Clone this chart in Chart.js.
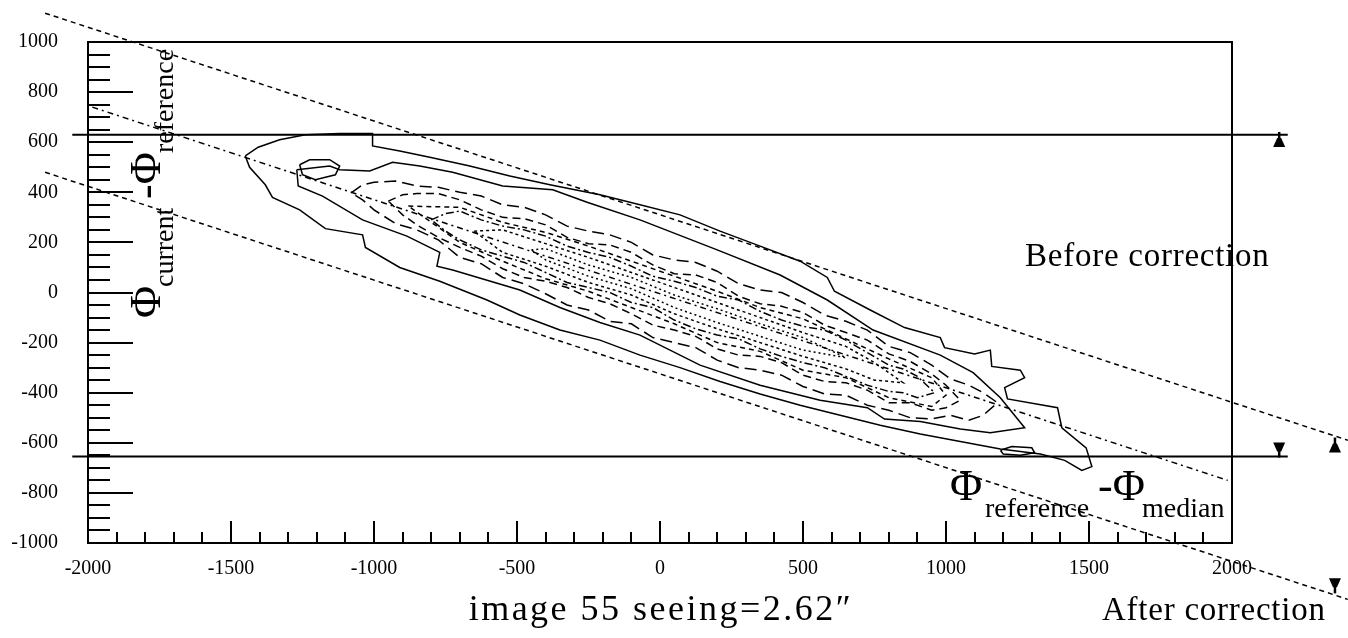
<!DOCTYPE html>
<html>
<head>
<meta charset="utf-8">
<script src="https://cdn.jsdelivr.net/npm/chart.js@4/dist/chart.umd.min.js"></script>
<style>
  html, body { margin: 0; padding: 0; background: #fff; }
  canvas { display: block; }
</style>
</head>
<body>
<canvas id="chart" width="1348" height="638"></canvas>
<script>
// axes
const xTicks = [-2000, -1500, -1000, -500, 0, 500, 1000, 1500, 2000];
const yTicks = [-1000, -800, -600, -400, -200, 0, 200, 400, 600, 800, 1000];
const xMinorStep = 100;
const yMinorStep = 50;

// contours, outermost first
const c1X = [-1450,-1405,-1330,-1240,-1120,-1005,-1005,-910,-805,-665,-525,-385,-210,-70,70,210,350,490,585,610,735,855,980,995,1100,1155,1160,1260,1275,1205,1215,1390,1405,1490,1510,1475,1415,1330,1190,1050,910,770,630,490,350,210,70,-70,-210,-350,-490,-605,-770,-910,-1030,-1040,-1170,-1260,-1355,-1380,-1435,-1450];
const c1Y = [545,580,610,630,635,635,585,565,540,505,465,430,390,350,310,245,185,125,60,5,-70,-140,-180,-220,-245,-230,-295,-310,-340,-380,-425,-460,-540,-620,-695,-710,-670,-645,-625,-595,-565,-530,-490,-450,-405,-355,-300,-250,-190,-150,-90,-30,45,100,180,230,255,330,380,430,500,545];

const c2X = [-1270,-1155,-1120,-1015,-935,-840,-725,-550,-375,-255,-70,200,420,585,745,980,1095,1190,1275,1155,1050,910,785,725,560,350,140,-70,-210,-350,-490,-725,-780,-770,-885,-1040,-1180,-1265,-1270];
const c2Y = [490,505,490,485,520,505,480,425,410,360,290,170,70,-30,-150,-250,-320,-420,-540,-560,-545,-515,-505,-460,-430,-370,-290,-170,-120,-60,10,90,105,160,225,290,385,425,490];

const loopAX = [-1260,-1225,-1155,-1120,-1135,-1205,-1250,-1260];
const loopAY = [510,530,530,505,470,450,470,510];
const loopBX = [1190,1230,1300,1310,1260,1200,1190];
const loopBY = [-630,-615,-620,-640,-650,-645,-630];

const c3X = [-1080,-1040,-1000,-925,-850,-775,-700,-625,-550,-475,-400,-325,-250,-175,-100,-25,50,125,200,275,350,425,500,575,650,725,800,875,950,1015,1080,1130,1180,
             1130,1080,1015,950,875,800,725,650,575,500,425,350,275,200,125,50,-25,-100,-175,-250,-325,-400,-475,-550,-625,-700,-775,-850,-925,-1000,-1040,-1080];
const c3Y = [398,430,440,445,425,420,400,385,350,340,310,265,245,230,200,150,130,120,85,35,10,0,-40,-90,-115,-150,-215,-240,-290,-345,-370,-400,-440,
             -490,-510,-490,-505,-500,-470,-450,-410,-405,-375,-330,-310,-300,-270,-220,-200,-180,-125,-115,-70,-50,-5,35,60,115,140,210,250,275,330,370,398];

const c4X = [-950,-900,-850,-775,-700,-625,-550,-475,-400,-325,-250,-175,-100,-25,50,125,200,275,350,425,500,575,650,725,800,875,950,1000,1050,
             1000,950,875,800,725,650,575,500,425,350,275,200,125,50,-25,-100,-175,-250,-325,-400,-475,-550,-625,-700,-775,-850,-900,-950];
const c4Y = [365,390,395,395,370,330,300,295,270,220,195,190,160,110,75,70,40,-15,-45,-55,-80,-130,-160,-190,-245,-275,-325,-370,-430,
             -460,-470,-440,-440,-390,-360,-355,-330,-280,-255,-250,-225,-175,-150,-130,-85,-45,-20,20,45,60,95,145,180,220,270,310,365];

const c4bX = [-880,-700,-550,-400,-250,-100,50,200,350,500,650,800,950,1000,950,800,650,500,350,200,50,-100,-250,-400,-550,-700,-880];
const c4bY = [345,340,280,240,185,125,65,5,-60,-105,-185,-265,-340,-410,-455,-420,-340,-310,-235,-200,-125,-60,5,55,125,200,345];

const c5X = [-800,-750,-700,-625,-550,-475,-400,-325,-250,-175,-100,-25,50,125,200,275,350,425,500,575,650,725,800,850,900,960,
             900,850,800,725,650,575,500,425,350,275,200,125,50,-25,-100,-175,-250,-325,-400,-475,-550,-625,-700,-750,-800];
const c5Y = [290,315,325,290,265,250,225,185,160,140,105,65,45,20,-15,-30,-75,-110,-135,-150,-190,-240,-290,-305,-335,-400,
             -420,-400,-395,-370,-335,-300,-280,-255,-225,-185,-170,-145,-110,-60,-40,0,20,40,80,120,145,170,210,245,290];

const c6X = [-650,-550,-400,-250,-100,50,200,350,500,650,750,850,750,650,500,350,200,50,-100,-250,-400,-550,-650];
const c6Y = [245,250,195,140,80,20,-40,-100,-160,-215,-280,-360,-350,-305,-255,-200,-145,-85,-10,40,105,160,245];

const c7X = [-450,-400,-250,-100,50,200,350,500,650,500,350,200,50,-100,-250,-400,-450];
const c7Y = [170,175,110,60,-10,-65,-125,-180,-260,-230,-175,-120,-60,15,65,130,170];

// straight guide lines
const upperBandX = [-2150, 2405];
const upperBandY = [1115, -590];
const medianX = [-1985, 1985];
const medianY = [740, -750];
const lowerBandX = [-2150, 2405];
const lowerBandY = [480, -1225];
const cutX = [-2055, 2195];
const cutUpperY = [630, 630];
const cutLowerY = [-655, -655];

// range markers (before / after correction), 1 = up, -1 = down
const markX = [2165, 2165, 2360, 2360];
const markY = [605, -623, -615, -1165];
const markDir = [1, -1, 1, -1];

const pts = (xs, ys) => xs.map((x, i) => ({ x: x, y: ys[i] }));

function line(xs, ys, dash, width) {
  return {
    data: pts(xs, ys),
    showLine: true,
    borderColor: '#000',
    borderWidth: width || 1.5,
    borderDash: dash || [],
    pointRadius: 0,
    tension: 0,
    clip: false
  };
}

const serif = '"Liberation Serif", "Times New Roman", serif';

const decorations = {
  id: 'decorations',
  afterDatasetsDraw(chart) {
    const { ctx, chartArea: a, scales: { x, y } } = chart;
    ctx.save();
    ctx.strokeStyle = '#000';
    ctx.fillStyle = '#000';
    ctx.lineWidth = 2;
    ctx.strokeRect(a.left, a.top, a.right - a.left, a.bottom - a.top);

    // inward ticks
    ctx.beginPath();
    for (let v = y.min; v <= y.max; v += yMinorStep) {
      const py = Math.round(y.getPixelForValue(v));
      const len = yTicks.includes(v) ? 45 : 22;
      ctx.moveTo(a.left, py);
      ctx.lineTo(a.left + len, py);
    }
    for (let v = x.min; v <= x.max; v += xMinorStep) {
      const px = Math.round(x.getPixelForValue(v));
      const len = xTicks.includes(v) ? 22 : 11;
      ctx.moveTo(px, a.bottom);
      ctx.lineTo(px, a.bottom - len);
    }
    ctx.stroke();

    // markers outside the frame
    markX.forEach((mx, i) => {
      const px = x.getPixelForValue(mx);
      const py = y.getPixelForValue(markY[i]);
      const d = markDir[i];
      ctx.beginPath();
      ctx.moveTo(px - 6, py + 6 * d);
      ctx.lineTo(px + 6, py + 6 * d);
      ctx.lineTo(px + 2, py - 3 * d);
      ctx.lineTo(px - 2, py - 3 * d);
      ctx.closePath();
      ctx.fill();
      ctx.lineWidth = 2.5;
      ctx.beginPath();
      ctx.moveTo(px, py);
      ctx.lineTo(px, py - 9 * d);
      ctx.stroke();
    });

    ctx.textBaseline = 'alphabetic';

    // x axis title
    ctx.textAlign = 'left';
    ctx.font = '44px ' + serif;
    ctx.fillText('\u03A6', 950, 500);
    ctx.fillText('-\u03A6', 1098, 500);
    ctx.font = '28px ' + serif;
    ctx.fillText('reference', 985, 517);
    ctx.fillText('median', 1142, 517);

    // y axis title
    ctx.save();
    ctx.rotate(-Math.PI / 2);
    ctx.font = '44px ' + serif;
    ctx.fillText('\u03A6', -318, 160);
    ctx.fillText('-\u03A6', -199, 160);
    ctx.font = '28px ' + serif;
    ctx.fillText('current', -287, 173);
    ctx.fillText('reference', -153, 173);
    ctx.restore();

    ctx.font = '33px ' + serif;
    ctx.letterSpacing = '0.75px';
    ctx.fillText('Before correction', 1025, 266);
    ctx.fillText('After correction', 1102, 620);

    ctx.font = '36px ' + serif;
    ctx.letterSpacing = '2.5px';
    ctx.textAlign = 'center';
    ctx.fillText('image 55 seeing=2.62\u2033', 661, 620);
    ctx.restore();
  }
};

new Chart(document.getElementById('chart'), {
  type: 'scatter',
  data: {
    datasets: [
      line(c1X, c1Y, []),
      line(c2X, c2Y, []),
      line(loopAX, loopAY, []),
      line(loopBX, loopBY, []),
      line(c3X, c3Y, [12, 6]),
      line(c4X, c4Y, [8, 5]),
      line(c4bX, c4bY, [5, 4]),
      line(c5X, c5Y, [8, 3, 2, 3]),
      line(c6X, c6Y, [3, 3]),
      line(c7X, c7Y, [2, 3]),
      line(upperBandX, upperBandY, [5, 4]),
      line(medianX, medianY, [6, 4, 2, 4]),
      line(lowerBandX, lowerBandY, [5, 4]),
      line(cutX, cutUpperY, [], 2),
      line(cutX, cutLowerY, [], 2)
    ]
  },
  options: {
    responsive: false,
    animation: false,
    devicePixelRatio: 1,
    events: [],
    layout: { padding: { left: 0, right: 116, top: 42, bottom: 0 } },
    plugins: { legend: { display: false }, tooltip: { enabled: false } },
    scales: {
      x: {
        type: 'linear',
        min: -2000,
        max: 2000,
        afterBuildTicks: s => { s.ticks = xTicks.map(v => ({ value: v })); },
        afterFit: s => { s.height = 95; },
        grid: { display: false },
        border: { display: false },
        ticks: {
          color: '#000',
          font: { family: serif, size: 20 },
          padding: 6,
          maxRotation: 0,
          autoSkip: false,
          callback: v => String(v)
        }
      },
      y: {
        type: 'linear',
        min: -1000,
        max: 1000,
        afterBuildTicks: s => { s.ticks = yTicks.map(v => ({ value: v })); },
        afterFit: s => { s.width = 88; },
        grid: { display: false },
        border: { display: false },
        ticks: {
          color: '#000',
          font: { family: serif, size: 20 },
          padding: 22,
          autoSkip: false,
          callback: v => String(v)
        }
      }
    }
  },
  plugins: [decorations]
});
</script>
</body>
</html>
